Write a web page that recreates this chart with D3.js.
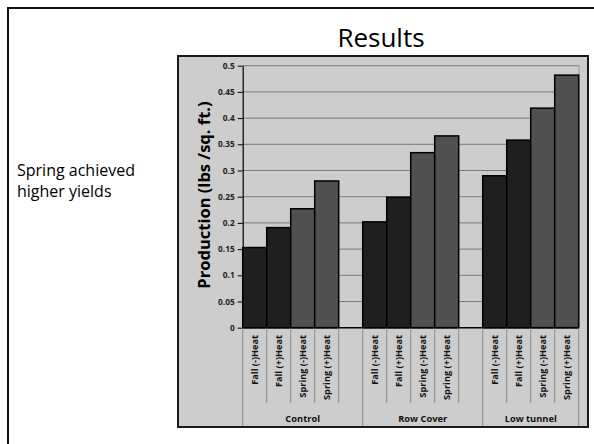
<!DOCTYPE html>
<html>
<head>
<meta charset="utf-8">
<script src="https://cdn.jsdelivr.net/npm/d3@7"></script>
<style>
  html, body { margin: 0; padding: 0; background: #fff; }
  svg { display: block; }
  text { font-family: "Open Sans", Lato, sans-serif; }
</style>
</head>
<body>
<svg id="chart" width="594" height="444"></svg>
<script>
// Production by site and season/heat treatment
const groups = ["Control", "Row Cover", "Low tunnel"];
const treatments = ["Fall (-)Heat", "Fall (+)Heat", "Spring (-)Heat", "Spring (+)Heat"];
const control = [0.153, 0.191, 0.227, 0.280];
const rowCover = [0.202, 0.249, 0.334, 0.366];
const lowTunnel = [0.290, 0.358, 0.419, 0.482];
const yTicks = [0, 0.05, 0.1, 0.15, 0.2, 0.25, 0.3, 0.35, 0.4, 0.45, 0.5];
const yTickLabels = ["0", "0.05", "0.1", "0.15", "0.2", "0.25", "0.3", "0.35", "0.4", "0.45", "0.5"];

const seriesByGroup = [control, rowCover, lowTunnel];

// slots: four bars per group, an empty slot between groups
const slots = [];
const bars = [];
groups.forEach((g, gi) => {
  treatments.forEach((t, ti) => {
    const key = g + "|" + t;
    slots.push(key);
    bars.push({ key, group: g, treatment: t, value: seriesByGroup[gi][ti], spring: t.startsWith("Spring") });
  });
  if (gi < groups.length - 1) slots.push("gap" + gi);
});

const svg = d3.select("#chart");

// outer slide frame
svg.append("rect")
  .attr("x", 8).attr("y", 8).attr("width", 600).attr("height", 460)
  .attr("fill", "none").attr("stroke", "#111").attr("stroke-width", 2);

svg.append("text")
  .attr("x", 381).attr("y", 47)
  .attr("text-anchor", "middle")
  .attr("font-size", 26)
  .attr("fill", "#000")
  .text("Results");

const note = svg.append("text")
  .attr("x", 17).attr("y", 176)
  .attr("font-size", 16)
  .attr("fill", "#000");
note.append("tspan").attr("x", 17).attr("dy", 0).text("Spring achieved");
note.append("tspan").attr("x", 17).attr("dy", 21).text("higher yields");

// chart box
svg.append("rect")
  .attr("x", 178).attr("y", 56).attr("width", 410).attr("height", 371)
  .attr("fill", "#cdcdcd").attr("stroke", "#1a1a1a").attr("stroke-width", 2);

const x = d3.scaleBand().domain(slots).range([242.7, 578.7]).padding(0);
const y = d3.scaleLinear().domain([0, 0.5]).range([327.7, 65.7]);

// gridlines
svg.append("g")
  .selectAll("line")
  .data(yTicks.slice(1))
  .join("line")
  .attr("x1", 242.7).attr("x2", 579)
  .attr("y1", d => y(d)).attr("y2", d => y(d))
  .attr("stroke", "#7a7a7a").attr("stroke-width", 1);

// right border of plot area
svg.append("line")
  .attr("x1", 579).attr("x2", 579)
  .attr("y1", y(0.5)).attr("y2", y(0))
  .attr("stroke", "#9a9a9a").attr("stroke-width", 1);

// y axis
const yAxis = d3.axisLeft(y)
  .tickValues(yTicks)
  .tickFormat((d, i) => yTickLabels[i])
  .tickSize(5)
  .tickSizeOuter(0);
const gy = svg.append("g")
  .attr("transform", "translate(242.7,0)")
  .call(yAxis);
gy.select(".domain").attr("stroke", "#000").attr("stroke-width", 1.2);
gy.selectAll(".tick line").attr("stroke", "#000");
gy.selectAll(".tick text")
  .attr("x", -8)
  .attr("font-size", 8.3)
  .attr("font-weight", "bold")
  .attr("fill", "#222")
  .style("font-family", "'Open Sans', sans-serif");

svg.append("text")
  .attr("transform", "translate(210,195) rotate(-90)")
  .attr("text-anchor", "middle")
  .attr("font-size", 16.5)
  .attr("font-weight", "bold")
  .attr("fill", "#000")
  .text("Production (lbs /sq. ft.)");

// bars
svg.append("g")
  .selectAll("rect")
  .data(bars)
  .join("rect")
  .attr("x", d => x(d.key))
  .attr("width", x.bandwidth())
  .attr("y", d => y(d.value))
  .attr("height", d => y(0) - y(d.value))
  .attr("fill", d => d.spring ? "#505050" : "#1f1f1f")
  .attr("stroke", "#000")
  .attr("stroke-width", 1.5);

// x baseline
svg.append("line")
  .attr("x1", 242.7).attr("x2", 579)
  .attr("y1", y(0)).attr("y2", y(0))
  .attr("stroke", "#000").attr("stroke-width", 1.5);

// category separators below the axis
const boundaries = [];
slots.forEach((s, i) => {
  const isGroupStart = i === 0 || slots[i - 1].startsWith("gap");
  boundaries.push({ x: x(s), long: isGroupStart });
});
boundaries.push({ x: x(slots[slots.length - 1]) + x.bandwidth(), long: true });

svg.append("g")
  .selectAll("line")
  .data(boundaries)
  .join("line")
  .attr("x1", d => d.x).attr("x2", d => d.x)
  .attr("y1", y(0)).attr("y2", d => d.long ? 426 : 403)
  .attr("stroke", "#8a8a8a").attr("stroke-width", 1);

// treatment labels
svg.append("g")
  .selectAll("text")
  .data(bars)
  .join("text")
  .attr("transform", d => `translate(${x(d.key) + x.bandwidth() / 2 + 3.3},335) rotate(-90)`)
  .attr("text-anchor", "end")
  .attr("font-size", 9.2)
  .attr("font-weight", "bold")
  .attr("fill", "#111")
  .text(d => d.treatment);

// group labels, centred on each group's span including the trailing gap
const groupSpans = groups.map((g, gi) => {
  const first = x(g + "|" + treatments[0]);
  const endKey = gi < groups.length - 1 ? "gap" + gi : g + "|" + treatments[treatments.length - 1];
  const last = x(endKey) + x.bandwidth();
  return { g, cx: (first + last) / 2 };
});
svg.append("g")
  .selectAll("text")
  .data(groupSpans)
  .join("text")
  .attr("x", d => d.cx).attr("y", 422)
  .attr("text-anchor", "middle")
  .attr("font-size", 9.3)
  .attr("font-weight", "bold")
  .attr("fill", "#111")
  .text(d => d.g);
</script>
</body>
</html>
